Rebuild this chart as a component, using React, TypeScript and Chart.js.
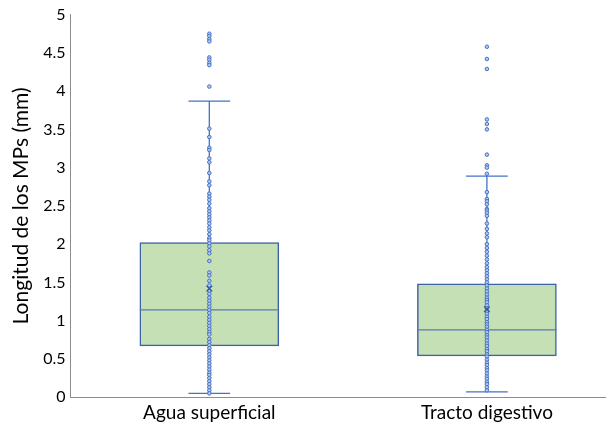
import React, { useEffect, useRef } from 'react';
import { Chart, registerables } from 'chart.js';

Chart.register(...registerables);

const categories = ['Agua superficial', 'Tracto digestivo'];
const positions = [1, 2];
const q1 = [0.67, 0.54];
const q3 = [2.02, 1.48];
const medians = [1.14, 0.88];
const whiskerLow = [0.05, 0.07];
const whiskerHigh = [3.87, 2.89];
const means = [1.42, 1.15];

const pointsAgua = [
  4.75, 4.72, 4.68, 4.65, 4.44, 4.41, 4.37, 4.34, 4.06,
  3.51, 3.40, 3.26, 3.23, 3.12, 3.07, 2.93, 2.82, 2.77,
  2.66, 2.62, 2.58, 2.53, 2.47, 2.43, 2.39, 2.35, 2.31, 2.27, 2.22, 2.18, 2.13, 2.08,
  2.05, 2.01, 1.97, 1.92, 1.88, 1.78, 1.63, 1.59, 1.52, 1.46,
  1.39, 1.35, 1.30, 1.26, 1.22, 1.18, 1.14, 1.10, 1.05, 1.01, 0.97, 0.93, 0.89, 0.85, 0.82,
  0.76, 0.72, 0.68, 0.64, 0.60, 0.56, 0.52, 0.48, 0.44, 0.40, 0.36, 0.32,
  0.29, 0.25, 0.21, 0.17, 0.13, 0.09, 0.05,
];

const pointsTracto = [
  4.58, 4.42, 4.29, 3.63, 3.57, 3.50, 3.17, 3.03, 3.00, 2.92,
  2.68, 2.59, 2.56, 2.52, 2.46, 2.44, 2.41, 2.37, 2.27, 2.20, 2.14, 2.09,
  2.00, 1.95, 1.90, 1.85, 1.80, 1.75,
  1.70, 1.66, 1.62, 1.58, 1.54, 1.50, 1.46, 1.42, 1.38, 1.34, 1.30, 1.27, 1.24, 1.20,
  1.16, 1.12, 1.09, 1.05, 1.02, 0.98, 0.95, 0.92, 0.88, 0.85, 0.81, 0.78, 0.74, 0.70,
  0.67, 0.63, 0.60, 0.56, 0.53, 0.49, 0.45, 0.42, 0.38, 0.35, 0.31, 0.27, 0.24, 0.20,
  0.17, 0.13, 0.09,
];

const yTickLabels = ['0', '0.5', '1', '1.5', '2', '2.5', '3', '3.5', '4', '4.5', '5'];

const pointSeries = [pointsAgua, pointsTracto];

const FONT = 'Lato, "Open Sans", sans-serif';
const BLUE = '#4472c4';
const BOX_BORDER = '#3d62a8';
const AXIS = '#8c8c8c';

const boxPlugin = {
  id: 'boxWhiskers',
  afterDatasetDraw(chart: any, args: any) {
    if (args.index !== 0) return;
    const ctx = chart.ctx;
    const y = chart.scales.y;
    const meta = chart.getDatasetMeta(0);
    ctx.save();
    positions.forEach((_, i) => {
      const el = meta.data[i];
      const cx = el.x;
      const half = el.width / 2;
      const capHalf = el.width * 0.15;
      ctx.strokeStyle = '#5a7ab5';
      ctx.lineWidth = 1.3;
      ctx.beginPath();
      ctx.moveTo(cx - half, y.getPixelForValue(medians[i]));
      ctx.lineTo(cx + half, y.getPixelForValue(medians[i]));
      ctx.stroke();
      ctx.strokeStyle = BLUE;
      ctx.lineWidth = 1.3;
      ctx.beginPath();
      ctx.moveTo(cx, y.getPixelForValue(q3[i]));
      ctx.lineTo(cx, y.getPixelForValue(whiskerHigh[i]));
      ctx.moveTo(cx, y.getPixelForValue(q1[i]));
      ctx.lineTo(cx, y.getPixelForValue(whiskerLow[i]));
      ctx.moveTo(cx - capHalf, y.getPixelForValue(whiskerHigh[i]));
      ctx.lineTo(cx + capHalf, y.getPixelForValue(whiskerHigh[i]));
      ctx.moveTo(cx - capHalf, y.getPixelForValue(whiskerLow[i]));
      ctx.lineTo(cx + capHalf, y.getPixelForValue(whiskerLow[i]));
      ctx.stroke();
    });
    ctx.restore();
  },
};

export default function App() {
  const ref = useRef<HTMLCanvasElement | null>(null);
  useEffect(() => {
    document.body.style.margin = '0';
    const chart = new Chart(ref.current as HTMLCanvasElement, {
      type: 'bar',
      data: {
        datasets: [
          {
            type: 'bar',
            data: positions.map((p, i) => ({ x: p, y: [q1[i], q3[i]] })) as any,
            backgroundColor: '#c5e0b4',
            borderColor: BOX_BORDER,
            borderWidth: 1.5,
            borderSkipped: false,
            barThickness: 139,
            order: 2,
          } as any,
          ...pointSeries.map((vals, i) => ({
            type: 'scatter',
            data: vals.map((v) => ({ x: positions[i], y: v })),
            pointRadius: 1.8,
            pointBorderWidth: 1,
            borderColor: BLUE,
            backgroundColor: '#b4c7e7',
            order: 1,
          })),
          {
            type: 'scatter',
            data: positions.map((p, i) => ({ x: p, y: means[i] })),
            pointStyle: 'crossRot',
            pointRadius: 4,
            pointBorderWidth: 1.3,
            borderColor: '#2f5597',
            order: 0,
          } as any,
        ],
      },
      options: {
        animation: false,
        responsive: true,
        maintainAspectRatio: false,
        layout: { padding: { top: 4, right: 0, bottom: 0, left: 9 } },
        plugins: { legend: { display: false }, tooltip: { enabled: false } },
        scales: {
          x: {
            type: 'linear',
            min: 0.5,
            max: 2.428,
            offset: false,
            grid: { display: false, drawTicks: false },
            border: { display: true, color: AXIS, width: 1 },
            afterBuildTicks: (axis: any) => {
              axis.ticks = positions.map((v) => ({ value: v }));
            },
            ticks: {
              autoSkip: false,
              maxRotation: 0,
              padding: 4,
              color: '#000000',
              font: { family: FONT, size: 19 },
              callback: (v: any) => categories[positions.indexOf(Number(v))] ?? '',
            },
          },
          y: {
            min: 0,
            max: 5,
            grid: { display: false, drawTicks: false },
            border: { display: true, color: AXIS, width: 1 },
            ticks: {
              stepSize: 0.5,
              padding: 5,
              color: '#000000',
              font: { family: FONT, size: 16 },
              callback: (_v: any, i: number) => yTickLabels[i],
            },
            title: {
              display: true,
              text: 'Longitud de los MPs (mm)',
              color: '#000000',
              font: { family: FONT, size: 21 },
              padding: { top: 0, bottom: 4 },
            },
          },
        },
      },
      plugins: [boxPlugin],
    } as any);
    return () => chart.destroy();
  }, []);
  return (
    <div style={{ width: 611, height: 428, position: 'relative' }}>
      <canvas ref={ref} />
    </div>
  );
}
